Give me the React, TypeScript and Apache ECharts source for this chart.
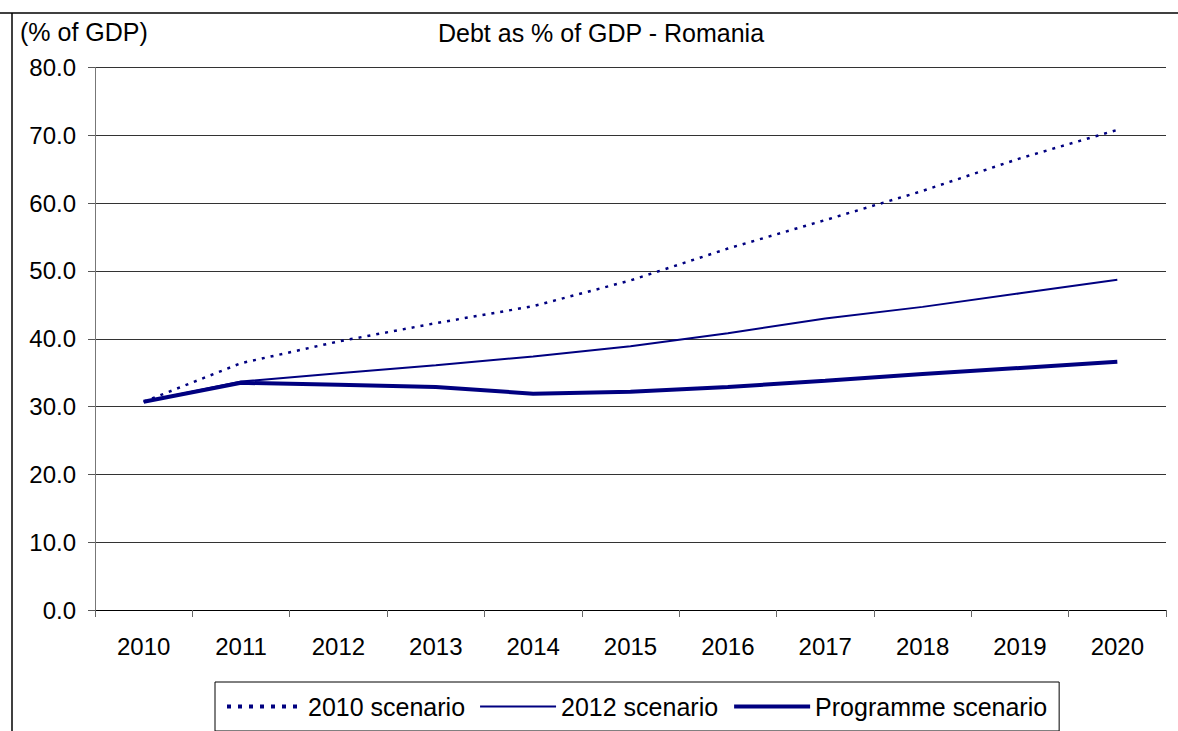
import React, { useEffect, useRef } from "react";
import * as echarts from "echarts";

const years = ["2010", "2011", "2012", "2013", "2014", "2015", "2016", "2017", "2018", "2019", "2020"];
const scenario2010 = [30.7, 36.4, 39.6, 42.3, 44.8, 48.6, 53.3, 57.5, 61.8, 66.6, 70.8];
const scenario2012 = [30.7, 33.7, 34.9, 36.1, 37.4, 38.9, 40.8, 43.0, 44.7, 46.7, 48.7];
const programme = [30.7, 33.5, 33.2, 32.9, 31.9, 32.2, 32.9, 33.8, 34.8, 35.7, 36.6];
const seriesNames = ["2010 scenario", "2012 scenario", "Programme scenario"];
const chartTitle = "Debt as % of GDP - Romania";
const unitLabel = "(% of GDP)";

const FONT = 'Arial, "Liberation Sans", sans-serif';
const NAVY = "#000080";

export default function App() {
  const ref = useRef<HTMLDivElement>(null);
  useEffect(() => {
    if (!ref.current) return;
    const chart = echarts.init(ref.current, undefined, { renderer: "svg" });
    chart.setOption({
      animation: false,
      backgroundColor: "#fff",
      textStyle: { fontFamily: FONT },
      grid: { left: 95, right: 12, top: 67.5, bottom: 121, containLabel: false },
      xAxis: {
        type: "category",
        data: years,
        boundaryGap: true,
        axisLine: { lineStyle: { color: "#000", width: 1 } },
        axisTick: { show: true, length: 7, inside: false, lineStyle: { color: "#666" } },
        axisLabel: { color: "#000", fontSize: 24, fontFamily: FONT, margin: 24 },
        splitLine: { show: false },
      },
      yAxis: {
        type: "value",
        min: 0,
        max: 80,
        interval: 10,
        axisLine: { show: true, lineStyle: { color: "#777", width: 1 } },
        axisTick: { show: true, length: 7, lineStyle: { color: "#555" } },
        axisLabel: {
          color: "#000",
          fontSize: 24,
          fontFamily: FONT,
          margin: 19,
          formatter: (v: number) => v.toFixed(1),
        },
        splitLine: { show: true, lineStyle: { color: "#333", width: 1 } },
      },
      legend: {
        left: 215,
        top: 682,
        padding: [12, 12, 12, 10],
        borderColor: "#000",
        borderWidth: 1,
        itemWidth: 76,
        itemHeight: 14,
        itemGap: 14,
        itemStyle: { opacity: 0 },
        textStyle: { color: "#000", fontSize: 25, fontFamily: FONT },
        data: [
          { name: seriesNames[0], lineStyle: { color: NAVY, width: 4, type: [4, 7] } },
          { name: seriesNames[1], lineStyle: { color: NAVY, width: 2 } },
          { name: seriesNames[2], lineStyle: { color: NAVY, width: 4 } },
        ],
      },
      series: [
        {
          name: seriesNames[0],
          type: "line",
          data: scenario2010,
          symbol: "none",
          lineStyle: { color: NAVY, width: 2.5, type: [3, 6] },
          itemStyle: { color: NAVY },
        },
        {
          name: seriesNames[1],
          type: "line",
          data: scenario2012,
          symbol: "none",
          lineStyle: { color: NAVY, width: 2 },
          itemStyle: { color: NAVY },
        },
        {
          name: seriesNames[2],
          type: "line",
          data: programme,
          symbol: "none",
          lineStyle: { color: NAVY, width: 4 },
          itemStyle: { color: NAVY },
        },
      ],
      graphic: [
        { type: "line", shape: { x1: 0, y1: 13, x2: 1178, y2: 13 }, style: { stroke: "#000", lineWidth: 1.5 } },
        { type: "line", shape: { x1: 12, y1: 13, x2: 12, y2: 731 }, style: { stroke: "#000", lineWidth: 1.5 } },
        {
          type: "text",
          x: 601,
          y: 33,
          style: { text: chartTitle, font: `25px ${FONT}`, fill: "#000", textAlign: "center", textVerticalAlign: "middle" },
        },
        {
          type: "text",
          x: 20,
          y: 32,
          style: { text: unitLabel, font: `25px ${FONT}`, fill: "#000", textAlign: "left", textVerticalAlign: "middle" },
        },
      ],
    });
    return () => chart.dispose();
  }, []);
  return (
    <div
      ref={ref}
      style={{ position: "fixed", left: 0, top: 0, width: 1178, height: 731, background: "#fff" }}
    />
  );
}
